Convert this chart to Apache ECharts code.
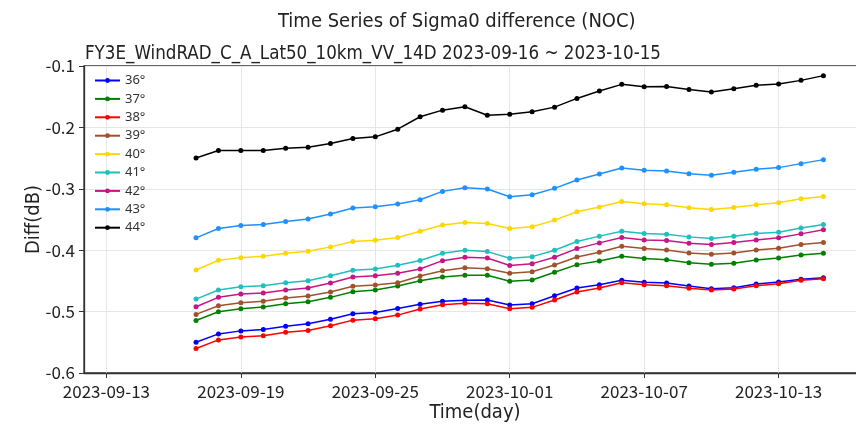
<!DOCTYPE html>
<html>
<head>
<meta charset="utf-8">
<script src="https://cdn.jsdelivr.net/npm/echarts@6/dist/echarts.min.js"></script>
<style>html,body{margin:0;padding:0;background:#fff}#c{width:856px;height:424px}</style>
</head>
<body>
<div id="c"></div>
<script>
const dates = ['2023-09-17','2023-09-18','2023-09-19','2023-09-20','2023-09-21','2023-09-22','2023-09-23','2023-09-24','2023-09-25','2023-09-26','2023-09-27','2023-09-28','2023-09-29','2023-09-30','2023-10-01','2023-10-02','2023-10-03','2023-10-04','2023-10-05','2023-10-06','2023-10-07','2023-10-08','2023-10-09','2023-10-10','2023-10-11','2023-10-12','2023-10-13','2023-10-14','2023-10-15'];
const tickLabels = ['2023-09-13','2023-09-19','2023-09-25','2023-10-01','2023-10-07','2023-10-13'];
const yTicks = [-0.6,-0.5,-0.4,-0.3,-0.2,-0.1];
const names = ['36°','37°','38°','39°','40°','41°','42°','43°','44°'];
const s36 = [-0.5498,-0.5363,-0.5314,-0.5291,-0.5237,-0.5199,-0.5123,-0.5036,-0.5013,-0.4948,-0.4882,-0.4833,-0.4817,-0.4812,-0.4894,-0.4873,-0.4742,-0.4616,-0.4562,-0.4490,-0.4523,-0.4534,-0.4583,-0.4627,-0.4611,-0.4551,-0.4518,-0.4474,-0.4448];
const s37 = [-0.5144,-0.5003,-0.4954,-0.4926,-0.4873,-0.4840,-0.4768,-0.4676,-0.4649,-0.4583,-0.4497,-0.4436,-0.4408,-0.4408,-0.4507,-0.4485,-0.4359,-0.4235,-0.4175,-0.4098,-0.4137,-0.4154,-0.4203,-0.4229,-0.4212,-0.4159,-0.4126,-0.4077,-0.4049];
const s38 = [-0.5601,-0.5461,-0.5412,-0.5395,-0.5335,-0.5307,-0.5232,-0.5139,-0.5118,-0.5057,-0.4959,-0.4889,-0.4866,-0.4873,-0.4954,-0.4931,-0.4812,-0.4681,-0.4616,-0.4529,-0.4562,-0.4578,-0.4621,-0.4649,-0.4632,-0.4578,-0.4546,-0.4490,-0.4464];
const s39 = [-0.5046,-0.4905,-0.4856,-0.4833,-0.4779,-0.4747,-0.4681,-0.4588,-0.4567,-0.4529,-0.4420,-0.4333,-0.4284,-0.4301,-0.4376,-0.4350,-0.4240,-0.4110,-0.4033,-0.3935,-0.3974,-0.3995,-0.4044,-0.4065,-0.4044,-0.3995,-0.3967,-0.3908,-0.3876];
const s40 = [-0.4322,-0.4163,-0.4121,-0.4098,-0.4049,-0.4016,-0.3946,-0.3859,-0.3837,-0.3794,-0.3690,-0.3591,-0.3549,-0.3565,-0.3647,-0.3619,-0.3510,-0.3374,-0.3297,-0.3206,-0.3243,-0.3260,-0.3309,-0.3337,-0.3304,-0.3260,-0.3227,-0.3162,-0.3124];
const s41 = [-0.4796,-0.4649,-0.4595,-0.4578,-0.4529,-0.4497,-0.4415,-0.4327,-0.4306,-0.4245,-0.4167,-0.4049,-0.4000,-0.4023,-0.4131,-0.4105,-0.4000,-0.3859,-0.3771,-0.3690,-0.3729,-0.3739,-0.3783,-0.3810,-0.3771,-0.3729,-0.3706,-0.3640,-0.3582];
const s42 = [-0.4922,-0.4768,-0.4714,-0.4698,-0.4649,-0.4616,-0.4534,-0.4436,-0.4415,-0.4376,-0.4306,-0.4170,-0.4114,-0.4126,-0.4248,-0.4219,-0.4114,-0.3974,-0.3881,-0.3794,-0.3832,-0.3843,-0.3886,-0.3908,-0.3876,-0.3832,-0.3799,-0.3734,-0.3668];
const s43 = [-0.3799,-0.3647,-0.3598,-0.3582,-0.3533,-0.3493,-0.3412,-0.3314,-0.3292,-0.3248,-0.3178,-0.3042,-0.2982,-0.3003,-0.3129,-0.3096,-0.2993,-0.2856,-0.2758,-0.2660,-0.2699,-0.2709,-0.2753,-0.2781,-0.2732,-0.2683,-0.2655,-0.2590,-0.2525];
const s44 = [-0.2497,-0.2377,-0.2377,-0.2377,-0.2340,-0.2324,-0.2263,-0.2181,-0.2154,-0.2029,-0.1827,-0.1719,-0.1663,-0.1801,-0.1784,-0.1745,-0.1670,-0.1528,-0.1408,-0.1299,-0.1337,-0.1332,-0.1381,-0.1425,-0.1369,-0.1315,-0.1294,-0.1234,-0.1157];
const seriesValues = [s36,s37,s38,s39,s40,s41,s42,s43,s44];
const colors = ['#0000ff','#008000','#ff0000','#a0522d','#ffd700','#1fbfbf','#c71585','#1e90ff','#000000'];

const DAY = 86400000;
const xMin = Date.parse('2023-09-12');
const xMax = xMin + 34.9 * DAY;
const tickVals = tickLabels.map(d => Date.parse(d));
function fmt(v){
  const d = new Date(v);
  const p = n => String(n).padStart(2,'0');
  return d.getUTCFullYear()+'-'+p(d.getUTCMonth()+1)+'-'+p(d.getUTCDate());
}
const narrow = "'Liberation Sans Narrow','DejaVu Sans Condensed',sans-serif";
const tickFont = "'Noto Sans CJK SC',sans-serif";
const chart = echarts.init(document.getElementById('c'), null, {renderer:'canvas'});
chart.setOption({
  animation:false,
  backgroundColor:'#fff',
  color: colors,
  title:[
    {text:'Time Series of Sigma0 difference (NOC)', left:273, top:7,
     textStyle:{fontFamily:narrow, fontSize:20, fontWeight:'normal', color:'#222'}},
    {text:'FY3E_WindRAD_C_A_Lat50_10km_VV_14D 2023-09-16 ~ 2023-10-15', left:80, top:40,
     textStyle:{fontFamily:narrow, fontSize:18.6, fontWeight:'normal', color:'#222'}}
  ],
  legend:{
    orient:'vertical', left:89, top:69, itemWidth:25, itemHeight:6, itemGap:5.4,
    data:names,
    textStyle:{fontFamily:"'Noto Sans',sans-serif", fontSize:13, color:'#333', lineHeight:13}
  },
  grid:{left:84, top:66, right:-10, bottom:51, show:true, borderColor:'#333', borderWidth:1.3,
        containLabel:false, outerBoundsMode:'none'},
  xAxis:{
    type:'value', min:xMin, max:xMax,
    name:'Time(day)', nameLocation:'middle', nameGap:30, nameMoveOverlap:false,
    nameTextStyle:{fontFamily:narrow, fontSize:20, color:'#222'},
    axisLine:{show:true, lineStyle:{color:'#333', width:1.3}},
    axisTick:{show:true, customValues:tickVals, length:5, lineStyle:{color:'#333'}},
    axisLabel:{customValues:tickVals, formatter:v=>fmt(v), fontFamily:tickFont, fontSize:17, color:'#222', margin:10},
    splitLine:{show:true, lineStyle:{color:'#e6e6e6', width:1}}
  },
  yAxis:{
    type:'value', min:yTicks[0], max:yTicks[yTicks.length-1], interval:0.1,
    name:'Diff(dB)', nameLocation:'middle', nameGap:40, nameMoveOverlap:false,
    nameTextStyle:{fontFamily:narrow, fontSize:20, color:'#222'},
    axisLine:{show:true, lineStyle:{color:'#333', width:1.3}},
    axisTick:{show:true, length:5, lineStyle:{color:'#333'}},
    axisLabel:{formatter:v=>v.toFixed(1), fontFamily:tickFont, fontSize:17, color:'#222', margin:9},
    splitLine:{show:true, lineStyle:{color:'#e6e6e6', width:1}}
  },
  series: names.map((n,i)=>({
    name:n, type:'line', symbol:'circle', symbolSize:5,
    data: dates.map((d,j)=>[Date.parse(d), seriesValues[i][j]]),
    lineStyle:{width:1.5, color:colors[i]},
    itemStyle:{color:colors[i]},
    z: 2
  }))
});
</script>
</body>
</html>
